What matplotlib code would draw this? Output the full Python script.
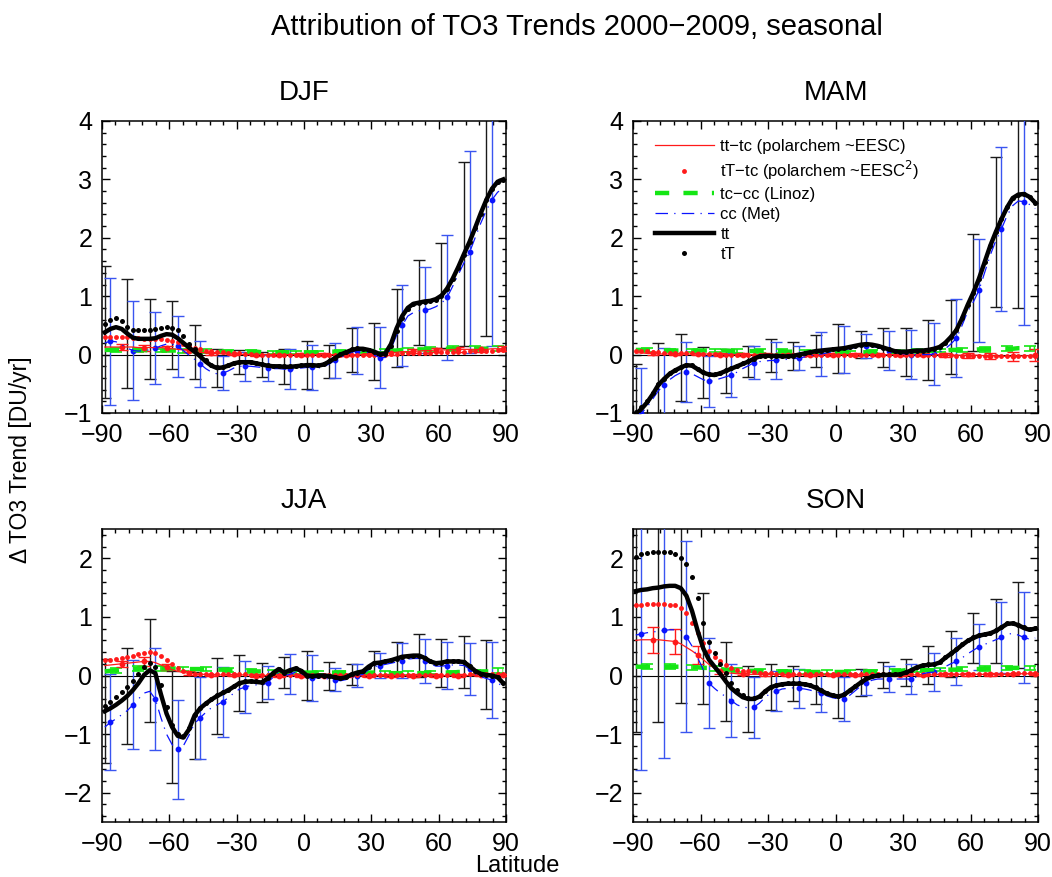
import numpy as np
import matplotlib
matplotlib.use("Agg")
import matplotlib.pyplot as plt
from matplotlib.lines import Line2D
from matplotlib.ticker import MultipleLocator

plt.rcParams["font.family"] = ["Liberation Sans", "DejaVu Sans"]

# ---------------------------------------------------------------------------
# Zonal-mean total ozone trends 2000-2009 (DU/yr) on a 2.5 degree latitude grid
# ---------------------------------------------------------------------------
latitudes = np.arange(-88.75, 89.0, 2.5)
seasons = ["DJF", "MAM", "JJA", "SON"]

# ---- DJF ------------------------------------------------------------------
djf_tt = [0.38, 0.44, 0.47, 0.44, 0.36, 0.29, 0.27, 0.27, 0.27, 0.28, 0.32, 0.35,
          0.34, 0.28, 0.20, 0.12, 0.05, -0.03, -0.12, -0.19, -0.23, -0.22, -0.19, -0.15,
          -0.13, -0.13, -0.13, -0.15, -0.17, -0.19, -0.20, -0.20, -0.21, -0.21, -0.20, -0.19,
          -0.18, -0.18, -0.19, -0.17, -0.12, -0.06, 0.00, 0.04, 0.08, 0.10, 0.10, 0.08,
          0.05, 0.01, 0.02, 0.18, 0.45, 0.66, 0.80, 0.87, 0.89, 0.91, 0.92, 0.95,
          1.01, 1.13, 1.30, 1.50, 1.72, 1.93, 2.17, 2.42, 2.65, 2.84, 2.96, 3.00]
djf_tT = [0.53, 0.60, 0.62, 0.57, 0.48, 0.42, 0.42, 0.42, 0.42, 0.43, 0.46, 0.47,
          0.46, 0.42, 0.31, 0.19, 0.09, 0.00, -0.10, -0.17, -0.21, -0.21, -0.18, -0.14,
          -0.12, -0.12, -0.12, -0.14, -0.16, -0.18, -0.19, -0.19, -0.20, -0.20, -0.19, -0.18,
          -0.17, -0.17, -0.18, -0.16, -0.11, -0.05, 0.01, 0.05, 0.09, 0.11, 0.10, 0.08,
          0.05, 0.01, 0.01, 0.15, 0.40, 0.62, 0.78, 0.86, 0.88, 0.90, 0.91, 0.94,
          1.00, 1.12, 1.29, 1.49, 1.71, 1.92, 2.16, 2.41, 2.64, 2.83, 2.95, 2.99]
djf_tt_tc = [0.13, 0.13, 0.13, 0.13, 0.13, 0.13, 0.12, 0.12, 0.12, 0.12, 0.12, 0.11,
             0.10, 0.09, 0.08, 0.07, 0.05, 0.04, 0.03, 0.02, 0.02, 0.01, 0.01, 0.01,
             0.01, 0.00, 0.00, 0.00, 0.00, 0.00, 0.00, 0.00, 0.00, 0.00, 0.00, 0.00,
             0.00, 0.00, 0.00, 0.00, 0.00, 0.00, 0.00, 0.00, 0.00, 0.00, 0.00, 0.01,
             0.01, 0.01, 0.02, 0.03, 0.04, 0.05, 0.05, 0.06, 0.06, 0.07, 0.07, 0.08,
             0.08, 0.08, 0.09, 0.09, 0.09, 0.09, 0.09, 0.09, 0.09, 0.10, 0.10, 0.10]
djf_tT_tc = [0.30, 0.30, 0.30, 0.30, 0.30, 0.29, 0.28, 0.27, 0.26, 0.26, 0.26, 0.25,
             0.24, 0.22, 0.18, 0.14, 0.11, 0.09, 0.07, 0.06, 0.05, 0.04, 0.03, 0.02,
             0.02, 0.01, 0.01, 0.00, 0.00, 0.00, 0.00, 0.00, 0.00, 0.00, 0.00, 0.00,
             0.00, 0.00, 0.00, 0.00, 0.00, 0.00, 0.00, 0.00, 0.00, 0.00, 0.00, 0.00,
             0.00, 0.00, 0.00, 0.01, 0.01, 0.02, 0.02, 0.02, 0.03, 0.03, 0.03, 0.04,
             0.04, 0.04, 0.05, 0.05, 0.05, 0.06, 0.06, 0.07, 0.07, 0.07, 0.08, 0.08]
djf_tc_cc = [0.08, 0.08, 0.08, 0.08, 0.08, 0.08, 0.08, 0.08, 0.07, 0.07, 0.07, 0.07,
             0.07, 0.07, 0.06, 0.06, 0.06, 0.06, 0.06, 0.05, 0.05, 0.05, 0.05, 0.05,
             0.05, 0.05, 0.05, 0.05, 0.04, 0.04, 0.04, 0.04, 0.04, 0.04, 0.04, 0.04,
             0.04, 0.04, 0.04, 0.05, 0.05, 0.05, 0.05, 0.05, 0.05, 0.05, 0.06, 0.06,
             0.06, 0.06, 0.07, 0.07, 0.07, 0.08, 0.08, 0.08, 0.09, 0.09, 0.09, 0.10,
             0.10, 0.10, 0.10, 0.10, 0.10, 0.10, 0.10, 0.10, 0.10, 0.10, 0.11, 0.11]
djf_cc = [0.20, 0.23, 0.22, 0.17, 0.11, 0.07, 0.06, 0.07, 0.08, 0.11, 0.15, 0.18,
          0.18, 0.14, 0.07, -0.01, -0.08, -0.16, -0.24, -0.30, -0.33, -0.32, -0.28, -0.23,
          -0.20, -0.20, -0.20, -0.21, -0.22, -0.23, -0.24, -0.24, -0.25, -0.25, -0.24, -0.23,
          -0.22, -0.22, -0.23, -0.21, -0.16, -0.10, -0.05, -0.01, 0.04, 0.07, 0.06, 0.03,
          -0.01, -0.05, -0.05, 0.10, 0.33, 0.50, 0.66, 0.72, 0.75, 0.76, 0.78, 0.82,
          0.88, 0.98, 1.17, 1.37, 1.57, 1.75, 2.00, 2.25, 2.47, 2.65, 2.78, 2.85]
djf_err_tt = [1.13, 0.93, 0.69, 0.58, 0.46, 0.32, 0.21, 0.22, 0.30, 0.41, 0.28, 0.38,
              0.49, 0.67, 0.73, 0.90, 1.57, 2.33]
djf_err_cc = [1.09, 0.85, 0.62, 0.52, 0.40, 0.29, 0.25, 0.22, 0.34, 0.39, 0.30, 0.41,
              0.52, 0.69, 0.74, 1.07, 1.73, 2.50]
djf_err_tc_cc = [0.04, 0.04, 0.03, 0.03, 0.03, 0.03, 0.03, 0.03, 0.03, 0.03, 0.03, 0.03,
                 0.03, 0.03, 0.04, 0.04, 0.04, 0.04]
djf_err_tt_tc = [0.05, 0.05, 0.04, 0.03, 0.02, 0.02, 0.02, 0.02, 0.02, 0.02, 0.02, 0.02,
                 0.03, 0.03, 0.03, 0.04, 0.04, 0.04]

# ---- MAM ------------------------------------------------------------------
mam_tt = [-1.02, -0.93, -0.82, -0.68, -0.52, -0.42, -0.33, -0.27, -0.22, -0.18, -0.19, -0.25,
          -0.31, -0.34, -0.35, -0.32, -0.28, -0.24, -0.20, -0.16, -0.12, -0.07, -0.03, -0.02,
          -0.02, -0.02, -0.03, -0.03, -0.02, 0.00, 0.02, 0.04, 0.06, 0.07, 0.08, 0.09,
          0.10, 0.11, 0.13, 0.15, 0.17, 0.18, 0.17, 0.15, 0.12, 0.09, 0.06, 0.05,
          0.05, 0.06, 0.07, 0.07, 0.08, 0.10, 0.13, 0.20, 0.30, 0.42, 0.62, 0.85,
          1.06, 1.30, 1.58, 1.86, 2.10, 2.32, 2.52, 2.68, 2.74, 2.75, 2.70, 2.60]
mam_tT = [-0.98, -0.89, -0.79, -0.66, -0.51, -0.41, -0.32, -0.26, -0.21, -0.17, -0.18, -0.24,
          -0.30, -0.33, -0.34, -0.31, -0.27, -0.23, -0.19, -0.15, -0.11, -0.07, -0.03, -0.02,
          -0.02, -0.02, -0.03, -0.03, -0.02, 0.00, 0.02, 0.04, 0.06, 0.07, 0.08, 0.09,
          0.10, 0.11, 0.13, 0.15, 0.17, 0.18, 0.17, 0.15, 0.12, 0.09, 0.06, 0.05,
          0.05, 0.06, 0.07, 0.07, 0.08, 0.10, 0.13, 0.20, 0.30, 0.42, 0.62, 0.85,
          1.06, 1.30, 1.58, 1.86, 2.10, 2.32, 2.52, 2.68, 2.74, 2.75, 2.70, 2.60]
mam_tt_tc = [0.03, 0.03, 0.02, 0.02, 0.01, 0.01, 0.01, 0.01, 0.01, 0.01, 0.01, 0.01,
             0.01, 0.01, 0.01, 0.00, 0.00, 0.00, 0.00, 0.00, 0.00, 0.00, 0.00, 0.00,
             0.00, 0.00, 0.00, 0.00, 0.00, 0.00, 0.00, 0.00, 0.00, 0.00, 0.00, 0.00,
             0.00, 0.00, 0.00, 0.00, 0.00, 0.00, 0.00, 0.00, 0.00, 0.00, 0.00, 0.00,
             0.00, 0.00, 0.00, 0.00, 0.00, 0.00, 0.00, -0.01, -0.01, -0.01, -0.01, -0.01,
             -0.01, -0.01, -0.02, -0.02, -0.02, -0.03, -0.03, -0.03, -0.03, -0.02, -0.02, -0.01]
mam_tT_tc = [0.07, 0.07, 0.06, 0.05, 0.04, 0.03, 0.03, 0.02, 0.02, 0.02, 0.02, 0.01,
             0.01, 0.01, 0.01, 0.01, 0.00, 0.00, 0.00, 0.00, 0.00, 0.00, 0.00, 0.00,
             0.00, 0.00, 0.00, 0.00, 0.00, 0.00, 0.00, 0.00, 0.00, 0.00, 0.00, 0.00,
             0.00, 0.00, 0.00, 0.00, 0.00, 0.00, -0.01, -0.01, -0.01, -0.01, -0.01, -0.01,
             -0.01, -0.01, -0.01, -0.01, -0.01, -0.01, -0.01, -0.01, -0.01, -0.02, -0.02, -0.02,
             -0.02, -0.02, -0.02, -0.02, -0.02, -0.02, -0.03, -0.03, -0.03, -0.02, -0.02, -0.02]
mam_tc_cc = [0.08, 0.08, 0.08, 0.08, 0.07, 0.07, 0.07, 0.07, 0.07, 0.07, 0.07, 0.07,
             0.07, 0.07, 0.07, 0.07, 0.07, 0.06, 0.06, 0.06, 0.06, 0.06, 0.06, 0.06,
             0.06, 0.06, 0.06, 0.05, 0.05, 0.05, 0.05, 0.05, 0.04, 0.04, 0.04, 0.04,
             0.04, 0.04, 0.04, 0.04, 0.04, 0.04, 0.05, 0.05, 0.05, 0.05, 0.05, 0.05,
             0.05, 0.06, 0.06, 0.06, 0.06, 0.07, 0.07, 0.07, 0.08, 0.08, 0.08, 0.08,
             0.08, 0.09, 0.09, 0.09, 0.09, 0.10, 0.10, 0.10, 0.11, 0.11, 0.11, 0.11]
mam_cc = [-1.10, -1.00, -0.90, -0.76, -0.62, -0.52, -0.43, -0.36, -0.31, -0.30, -0.33, -0.38,
          -0.43, -0.46, -0.44, -0.41, -0.38, -0.35, -0.30, -0.24, -0.19, -0.14, -0.12, -0.11,
          -0.10, -0.10, -0.09, -0.08, -0.07, -0.06, -0.04, -0.02, 0.00, 0.01, 0.03, 0.05,
          0.07, 0.09, 0.10, 0.12, 0.14, 0.15, 0.14, 0.12, 0.09, 0.07, 0.04, 0.02,
          0.01, 0.00, 0.00, 0.00, 0.00, 0.01, 0.04, 0.10, 0.18, 0.28, 0.50, 0.74,
          0.90, 1.10, 1.40, 1.70, 1.95, 2.15, 2.38, 2.55, 2.63, 2.62, 2.57, 2.50]
mam_err_tt = [0.86, 0.72, 0.57, 0.44, 0.37, 0.27, 0.28, 0.24, 0.28, 0.42, 0.23, 0.33,
              0.41, 0.51, 0.63, 1.00, 1.28, 1.94]
mam_err_cc = [0.77, 0.63, 0.52, 0.43, 0.37, 0.28, 0.32, 0.21, 0.38, 0.40, 0.21, 0.33,
              0.42, 0.53, 0.67, 0.88, 1.41, 2.12]
mam_err_tc_cc = [0.03, 0.03, 0.03, 0.03, 0.03, 0.03, 0.03, 0.03, 0.03, 0.03, 0.03, 0.03,
                 0.03, 0.03, 0.03, 0.04, 0.04, 0.04]
mam_err_tt_tc = [0.03, 0.02, 0.02, 0.02, 0.02, 0.02, 0.02, 0.02, 0.02, 0.02, 0.02, 0.02,
                 0.02, 0.03, 0.04, 0.05, 0.08, 0.10]

# ---- JJA ------------------------------------------------------------------
jja_tt = [-0.61, -0.56, -0.50, -0.43, -0.35, -0.25, -0.13, 0.01, 0.09, 0.04, -0.32, -0.65,
          -0.88, -1.03, -1.06, -0.92, -0.68, -0.56, -0.48, -0.41, -0.35, -0.30, -0.25, -0.19,
          -0.13, -0.11, -0.10, -0.11, -0.12, -0.05, 0.04, 0.11, 0.05, 0.09, 0.12, 0.08,
          0.00, -0.01, 0.00, 0.00, -0.01, -0.03, -0.05, -0.03, 0.02, 0.05, 0.07, 0.15,
          0.21, 0.22, 0.24, 0.26, 0.29, 0.32, 0.33, 0.34, 0.34, 0.30, 0.24, 0.21,
          0.22, 0.24, 0.24, 0.24, 0.23, 0.16, 0.08, 0.03, 0.01, 0.00, -0.03, -0.13]
jja_tT = [-0.52, -0.45, -0.37, -0.29, -0.20, -0.09, 0.03, 0.15, 0.21, 0.15, -0.17, -0.54,
          -0.84, -1.00, -1.04, -0.90, -0.67, -0.55, -0.47, -0.40, -0.34, -0.29, -0.24, -0.18,
          -0.12, -0.10, -0.09, -0.10, -0.11, -0.04, 0.05, 0.11, 0.05, 0.09, 0.12, 0.08,
          0.00, -0.01, 0.00, 0.00, -0.01, -0.03, -0.05, -0.03, 0.02, 0.05, 0.07, 0.15,
          0.21, 0.22, 0.24, 0.26, 0.29, 0.32, 0.33, 0.34, 0.34, 0.30, 0.24, 0.21,
          0.22, 0.24, 0.24, 0.24, 0.23, 0.16, 0.08, 0.03, 0.01, 0.00, -0.03, -0.13]
jja_tt_tc = [0.17, 0.18, 0.19, 0.20, 0.21, 0.22, 0.23, 0.24, 0.24, 0.22, 0.18, 0.14,
             0.10, 0.07, 0.05, 0.04, 0.03, 0.02, 0.02, 0.01, 0.01, 0.01, 0.01, 0.01,
             0.01, 0.01, 0.01, 0.00, 0.00, 0.00, 0.00, 0.00, 0.00, 0.00, 0.00, 0.00,
             0.00, 0.00, 0.00, 0.00, 0.00, 0.00, 0.00, 0.00, 0.00, 0.00, 0.00, 0.00,
             0.00, 0.00, 0.00, 0.00, 0.00, 0.00, 0.00, 0.00, 0.00, 0.00, 0.00, 0.00,
             0.00, 0.00, 0.00, 0.00, 0.00, 0.00, 0.00, 0.01, 0.01, 0.01, 0.01, 0.01]
jja_tT_tc = [0.26, 0.27, 0.29, 0.30, 0.32, 0.34, 0.37, 0.39, 0.40, 0.39, 0.34, 0.27,
             0.20, 0.12, 0.07, 0.04, 0.03, 0.03, 0.02, 0.02, 0.02, 0.02, 0.02, 0.02,
             0.02, 0.02, 0.01, 0.01, 0.01, 0.01, 0.01, 0.01, 0.01, 0.01, 0.01, 0.01,
             0.01, 0.01, 0.01, 0.01, 0.01, 0.01, 0.01, 0.01, 0.01, 0.01, 0.01, 0.01,
             0.01, 0.01, 0.01, 0.01, 0.01, 0.01, 0.01, 0.01, 0.01, 0.01, 0.01, 0.01,
             0.01, 0.01, 0.01, 0.01, 0.01, 0.02, 0.02, 0.02, 0.02, 0.02, 0.02, 0.02]
jja_tc_cc = [0.07, 0.08, 0.09, 0.10, 0.11, 0.11, 0.12, 0.13, 0.13, 0.13, 0.12, 0.12,
             0.12, 0.12, 0.11, 0.11, 0.11, 0.11, 0.11, 0.10, 0.10, 0.10, 0.09, 0.09,
             0.08, 0.08, 0.08, 0.07, 0.07, 0.07, 0.06, 0.06, 0.06, 0.05, 0.05, 0.05,
             0.05, 0.05, 0.05, 0.05, 0.05, 0.05, 0.05, 0.05, 0.05, 0.05, 0.05, 0.05,
             0.05, 0.04, 0.04, 0.04, 0.04, 0.04, 0.04, 0.04, 0.04, 0.04, 0.05, 0.05,
             0.05, 0.05, 0.05, 0.06, 0.06, 0.06, 0.06, 0.07, 0.07, 0.07, 0.08, 0.08]
jja_cc = [-0.88, -0.80, -0.74, -0.67, -0.60, -0.50, -0.40, -0.30, -0.27, -0.40, -0.72, -1.00,
          -1.18, -1.26, -1.20, -1.02, -0.82, -0.72, -0.63, -0.55, -0.50, -0.45, -0.38, -0.30,
          -0.23, -0.20, -0.17, -0.16, -0.17, -0.12, -0.03, 0.05, 0.00, 0.02, 0.06, 0.03,
          -0.04, -0.04, -0.04, -0.05, -0.06, -0.07, -0.09, -0.07, -0.03, 0.00, 0.02, 0.10,
          0.15, 0.17, 0.19, 0.21, 0.23, 0.25, 0.28, 0.29, 0.29, 0.25, 0.20, 0.16,
          0.16, 0.17, 0.18, 0.18, 0.17, 0.11, 0.03, -0.02, -0.05, -0.08, -0.12, -0.20]
jja_err_tt = [0.89, 0.82, 0.88, 0.95, 0.74, 0.65, 0.48, 0.33, 0.27, 0.42, 0.24, 0.18,
              0.20, 0.29, 0.36, 0.41, 0.45, 0.59]
jja_err_cc = [0.82, 0.76, 0.87, 0.85, 0.70, 0.60, 0.44, 0.28, 0.34, 0.39, 0.20, 0.20,
              0.22, 0.30, 0.37, 0.40, 0.44, 0.65]
jja_err_tc_cc = [0.04, 0.04, 0.04, 0.04, 0.03, 0.03, 0.03, 0.03, 0.03, 0.03, 0.03, 0.03,
                 0.03, 0.03, 0.03, 0.03, 0.04, 0.04]
jja_err_tt_tc = [0.05, 0.07, 0.05, 0.03, 0.02, 0.02, 0.02, 0.02, 0.02, 0.02, 0.02, 0.02,
                 0.02, 0.02, 0.02, 0.02, 0.02, 0.02]

# ---- SON ------------------------------------------------------------------
son_tt = [1.44, 1.46, 1.47, 1.49, 1.50, 1.52, 1.53, 1.53, 1.49, 1.36, 1.10, 0.76,
          0.46, 0.27, 0.15, 0.03, -0.10, -0.22, -0.30, -0.37, -0.40, -0.40, -0.36, -0.27,
          -0.20, -0.17, -0.15, -0.14, -0.14, -0.14, -0.15, -0.17, -0.21, -0.26, -0.31, -0.34,
          -0.36, -0.33, -0.26, -0.19, -0.12, -0.06, -0.02, 0.00, 0.01, 0.01, 0.01, 0.02,
          0.05, 0.09, 0.14, 0.17, 0.18, 0.19, 0.22, 0.30, 0.37, 0.44, 0.52, 0.59,
          0.64, 0.68, 0.70, 0.72, 0.76, 0.82, 0.88, 0.89, 0.86, 0.81, 0.78, 0.80]
son_tT = [2.03, 2.07, 2.09, 2.10, 2.11, 2.11, 2.10, 2.07, 2.00, 1.90, 1.68, 1.32,
          0.90, 0.58, 0.38, 0.20, 0.05, -0.12, -0.25, -0.34, -0.39, -0.39, -0.35, -0.26,
          -0.19, -0.16, -0.14, -0.13, -0.13, -0.13, -0.14, -0.16, -0.20, -0.25, -0.30, -0.33,
          -0.35, -0.32, -0.25, -0.18, -0.11, -0.05, -0.01, 0.01, 0.02, 0.02, 0.02, 0.03,
          0.06, 0.10, 0.15, 0.18, 0.19, 0.20, 0.23, 0.31, 0.38, 0.45, 0.53, 0.60,
          0.65, 0.69, 0.71, 0.73, 0.77, 0.83, 0.89, 0.90, 0.87, 0.82, 0.79, 0.81]
son_tt_tc = [0.60, 0.61, 0.61, 0.61, 0.61, 0.60, 0.59, 0.58, 0.54, 0.48, 0.42, 0.35,
             0.27, 0.19, 0.12, 0.07, 0.05, 0.04, 0.03, 0.03, 0.02, 0.02, 0.02, 0.02,
             0.02, 0.02, 0.02, 0.01, 0.01, 0.01, 0.01, 0.01, 0.01, 0.01, 0.01, 0.01,
             0.01, 0.01, 0.01, 0.01, 0.01, 0.01, 0.01, 0.01, 0.01, 0.01, 0.01, 0.01,
             0.01, 0.01, 0.01, 0.01, 0.01, 0.01, 0.02, 0.02, 0.02, 0.02, 0.02, 0.02,
             0.02, 0.02, 0.02, 0.02, 0.02, 0.02, 0.02, 0.03, 0.03, 0.03, 0.03, 0.03]
son_tT_tc = [1.20, 1.21, 1.22, 1.22, 1.22, 1.22, 1.21, 1.20, 1.15, 1.06, 0.90, 0.72,
             0.55, 0.42, 0.32, 0.24, 0.18, 0.13, 0.10, 0.08, 0.07, 0.06, 0.05, 0.04,
             0.04, 0.03, 0.03, 0.02, 0.02, 0.02, 0.02, 0.02, 0.02, 0.02, 0.02, 0.02,
             0.02, 0.02, 0.02, 0.02, 0.02, 0.02, 0.02, 0.02, 0.02, 0.02, 0.02, 0.02,
             0.02, 0.02, 0.02, 0.02, 0.02, 0.02, 0.03, 0.03, 0.03, 0.03, 0.03, 0.03,
             0.03, 0.03, 0.03, 0.03, 0.03, 0.03, 0.03, 0.04, 0.04, 0.04, 0.04, 0.04]
son_tc_cc = [0.15, 0.15, 0.15, 0.15, 0.15, 0.15, 0.15, 0.15, 0.15, 0.15, 0.14, 0.14,
             0.13, 0.13, 0.12, 0.11, 0.10, 0.10, 0.09, 0.09, 0.08, 0.08, 0.08, 0.07,
             0.07, 0.07, 0.07, 0.07, 0.07, 0.06, 0.06, 0.06, 0.06, 0.06, 0.06, 0.06,
             0.06, 0.06, 0.06, 0.06, 0.07, 0.07, 0.07, 0.07, 0.08, 0.08, 0.08, 0.08,
             0.09, 0.09, 0.09, 0.09, 0.09, 0.09, 0.10, 0.10, 0.10, 0.10, 0.11, 0.11,
             0.11, 0.11, 0.12, 0.12, 0.12, 0.12, 0.13, 0.13, 0.13, 0.13, 0.13, 0.14]
son_cc = [0.69, 0.71, 0.73, 0.74, 0.76, 0.77, 0.78, 0.78, 0.77, 0.66, 0.50, 0.30,
          0.10, -0.13, -0.22, -0.30, -0.36, -0.43, -0.50, -0.54, -0.55, -0.54, -0.47, -0.37,
          -0.30, -0.27, -0.23, -0.22, -0.21, -0.22, -0.23, -0.25, -0.28, -0.30, -0.35, -0.38,
          -0.40, -0.40, -0.34, -0.26, -0.18, -0.12, -0.08, -0.06, -0.06, -0.06, -0.06, -0.06,
          -0.06, -0.06, -0.02, 0.03, 0.05, 0.06, 0.10, 0.15, 0.20, 0.24, 0.30, 0.37,
          0.43, 0.49, 0.53, 0.57, 0.61, 0.65, 0.70, 0.72, 0.69, 0.65, 0.62, 0.64]
son_err_tt = [2.41, 2.30, 1.96, 0.94, 0.67, 0.57, 0.39, 0.30, 0.27, 0.37, 0.23, 0.22,
              0.23, 0.32, 0.39, 0.42, 0.54, 0.74]
son_err_cc = [2.32, 2.18, 1.63, 0.77, 0.62, 0.52, 0.34, 0.33, 0.33, 0.37, 0.21, 0.22,
              0.25, 0.33, 0.40, 0.39, 0.60, 0.77]
son_err_tc_cc = [0.04, 0.04, 0.04, 0.04, 0.03, 0.03, 0.03, 0.03, 0.03, 0.03, 0.03, 0.03,
                 0.03, 0.03, 0.03, 0.04, 0.04, 0.04]
son_err_tt_tc = [0.22, 0.21, 0.16, 0.04, 0.02, 0.02, 0.02, 0.02, 0.02, 0.02, 0.02, 0.02,
                 0.02, 0.02, 0.02, 0.02, 0.02, 0.02]

ylims = {"DJF": (-1, 4), "MAM": (-1, 4), "JJA": (-2.5, 2.5), "SON": (-2.5, 2.5)}
yticks = {"DJF": [-1, 0, 1, 2, 3, 4], "MAM": [-1, 0, 1, 2, 3, 4],
          "JJA": [-2, -1, 0, 1, 2], "SON": [-2, -1, 0, 1, 2]}
xticks = [-90, -60, -30, 0, 30, 60, 90]

panels = {
    "DJF": dict(tt=djf_tt, tT=djf_tT, tt_tc=djf_tt_tc, tT_tc=djf_tT_tc, tc_cc=djf_tc_cc, cc=djf_cc,
                e_tt=djf_err_tt, e_cc=djf_err_cc, e_tc_cc=djf_err_tc_cc, e_tt_tc=djf_err_tt_tc),
    "MAM": dict(tt=mam_tt, tT=mam_tT, tt_tc=mam_tt_tc, tT_tc=mam_tT_tc, tc_cc=mam_tc_cc, cc=mam_cc,
                e_tt=mam_err_tt, e_cc=mam_err_cc, e_tc_cc=mam_err_tc_cc, e_tt_tc=mam_err_tt_tc),
    "JJA": dict(tt=jja_tt, tT=jja_tT, tt_tc=jja_tt_tc, tT_tc=jja_tT_tc, tc_cc=jja_tc_cc, cc=jja_cc,
                e_tt=jja_err_tt, e_cc=jja_err_cc, e_tc_cc=jja_err_tc_cc, e_tt_tc=jja_err_tt_tc),
    "SON": dict(tt=son_tt, tT=son_tT, tt_tc=son_tt_tc, tT_tc=son_tT_tc, tc_cc=son_tc_cc, cc=son_cc,
                e_tt=son_err_tt, e_cc=son_err_cc, e_tc_cc=son_err_tc_cc, e_tt_tc=son_err_tt_tc),
}

# colours / styles
C_RED = "#ff1a1a"
C_GREEN = "#14e614"
C_BLUE = "#0a14ff"
C_BLUE_BAR = "#3a55f0"
C_BLACK = "#000000"
GREEN_DASH = (3.2, 3.2)
BLUE_DASHDOT = (10, 5, 1, 5)

fig = plt.figure(figsize=(10.52, 8.77), dpi=100)
W, H = 1052.0, 877.0
boxes = {
    "DJF": (102, 121, 506, 413),
    "MAM": (633, 121, 1038, 413),
    "JJA": (102, 529, 506, 822),
    "SON": (633, 529, 1038, 822),
}

lat = latitudes
cap = 4.5
for name in seasons:
    x0, y0, x1, y1 = boxes[name]
    ax = fig.add_axes([x0 / W, 1 - y1 / H, (x1 - x0) / W, (y1 - y0) / H])
    d = {k: np.asarray(v, dtype=float) for k, v in panels[name].items()}

    ax.axhline(0, color="k", lw=0.8, zorder=1)

    # error bars every 10 degrees, staggered by 2.5 degrees per series
    ax.errorbar(lat[0::4], d["tt"][0::4], yerr=d["e_tt"], fmt="none", ecolor="#1a1a1a",
                elinewidth=1.0, capsize=cap, capthick=1.0, zorder=2)
    ax.errorbar(lat[1::4], d["cc"][1::4], yerr=d["e_cc"], fmt="o", color=C_BLUE, ms=3.2,
                ecolor=C_BLUE_BAR, elinewidth=1.0, capsize=cap, capthick=1.0, zorder=3)
    ax.errorbar(lat[2::4], d["tc_cc"][2::4], yerr=d["e_tc_cc"], fmt="none", ecolor=C_GREEN,
                elinewidth=1.2, capsize=cap, capthick=1.2, zorder=3)
    ax.errorbar(lat[3::4], d["tt_tc"][3::4], yerr=d["e_tt_tc"], fmt="o", color=C_RED, ms=3.2,
                ecolor=C_RED, elinewidth=1.0, capsize=cap, capthick=1.0, zorder=4)

    ax.plot(lat, d["tc_cc"], color=C_GREEN, lw=3.2, dashes=GREEN_DASH, zorder=4)
    ax.plot(lat, d["tt_tc"], color=C_RED, lw=0.9, zorder=5)
    ax.plot(lat, d["tT_tc"], "o", color=C_RED, ms=3.5, mew=0, zorder=5)
    ax.plot(lat, d["cc"], color=C_BLUE, lw=0.9, dashes=BLUE_DASHDOT, zorder=5)
    ax.plot(lat, d["tt"], color=C_BLACK, lw=3.2, zorder=6)
    ax.plot(lat, d["tT"], "o", color=C_BLACK, ms=3.6, mew=0, zorder=7)

    ax.set_xlim(-90, 90)
    ax.set_ylim(*ylims[name])
    ax.set_xticks(xticks)
    ax.set_xticklabels([str(t).replace("-", "\u2212") for t in xticks])
    ax.set_yticks(yticks[name])
    ax.set_yticklabels([str(t).replace("-", "\u2212") for t in yticks[name]])
    ax.xaxis.set_minor_locator(MultipleLocator(6))
    ax.yaxis.set_minor_locator(MultipleLocator(0.2))
    ax.tick_params(which="both", direction="in", top=True, right=True, width=1.0,
                   labelsize=18)
    ax.tick_params(which="major", length=6, pad=7)
    ax.tick_params(which="minor", length=3)
    for s in ax.spines.values():
        s.set_linewidth(1.1)
    ax.set_title(name, fontsize=20, pad=15)

    if name == "MAM":
        handles = [
            Line2D([], [], color=C_RED, lw=0.9),
            Line2D([], [], color=C_RED, marker="o", ms=3.5, mew=0, ls="none"),
            Line2D([], [], color=C_GREEN, lw=3.2, dashes=GREEN_DASH),
            Line2D([], [], color=C_BLUE, lw=0.9, dashes=BLUE_DASHDOT),
            Line2D([], [], color=C_BLACK, lw=3.2),
            Line2D([], [], color=C_BLACK, marker="o", ms=3.6, mew=0, ls="none"),
        ]
        labels = ["tt\u2212tc (polarchem ~EESC)",
                  "tT\u2212tc (polarchem ~EESC$^2$)",
                  "tc\u2212cc (Linoz)",
                  "cc (Met)",
                  "tt",
                  "tT"]
        ax.legend(handles, labels, loc="upper left", bbox_to_anchor=(0.055, 0.94),
                  frameon=False, fontsize=12, handlelength=3.5, handletextpad=0.4,
                  labelspacing=0.3, borderpad=0, borderaxespad=0, numpoints=1)

fig.text(577 / W, 1 - 27 / H, "Attribution of TO3 Trends 2000\u22122009, seasonal",
         ha="center", va="center", fontsize=21)
fig.text(21 / W, 1 - 460 / H, "\u0394 TO3 Trend [DU/yr]", rotation=90,
         ha="center", va="center", fontsize=16.5)
fig.text(517 / W, 1 - 866 / H, "Latitude", ha="center", va="center", fontsize=17)

fig.savefig("out.png", dpi=100)
